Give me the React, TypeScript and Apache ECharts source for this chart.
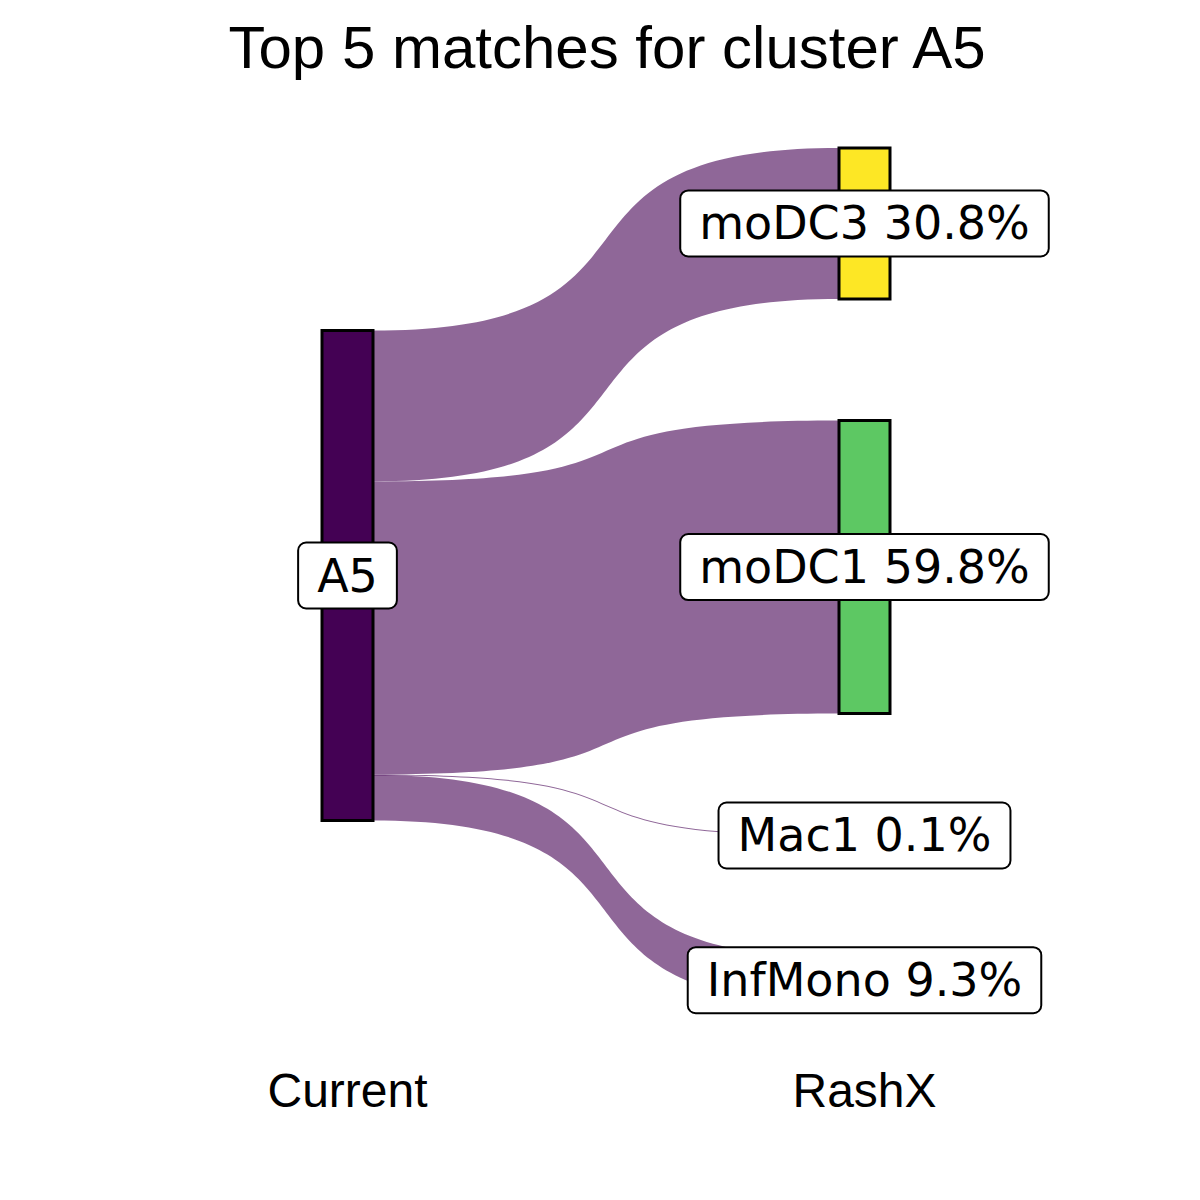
import React, { useEffect, useRef } from "react";
import * as echarts from "echarts";

const chartTitle = "Top 5 matches for cluster A5";
const sourceName = "A5";
const targetNames = ["moDC3", "moDC1", "Mac1", "InfMono"];
const targetPercents = [30.8, 59.8, 0.1, 9.3];
const sourceColor = "#440154";
const targetColors = ["#FDE725", "#5DC863", "#3B528B", "#21908C"];
const stageLabels = ["Current", "RashX"];

export default function App() {
  const ref = useRef<HTMLDivElement>(null);
  useEffect(() => {
    if (!ref.current) return;
    const chart = echarts.init(ref.current, null, { renderer: "svg" });

    const top = 148;
    const height = 855;
    const left = 322;
    const width = 568;
    const nodeWidth = 51;
    const total = targetPercents.reduce((a, b) => a + b, 0);
    const nodeGap = 121.7;
    const ky = (height - (targetNames.length - 1) * nodeGap) / total;
    const srcH = total * ky;
    const srcLocalY = (height - srcH) / 2 / height;

    const labelStyle = {
      show: true,
      position: "inside",
      color: "#000",
      fontFamily: "DejaVu Sans",
      fontSize: 46,
      lineHeight: 46,
      backgroundColor: "#fff",
      borderColor: "#000",
      borderWidth: 2,
      borderRadius: 7,
      padding: [9, 18, 9, 18],
    };

    const nodes: any[] = [
      {
        name: sourceName,
        localY: srcLocalY,
        itemStyle: { color: sourceColor },
        label: { ...labelStyle, formatter: () => sourceName },
      },
      ...targetNames.map((n, i) => ({
        name: n,
        itemStyle: { color: targetColors[i] },
        label: {
          ...labelStyle,
          formatter: () => `${n} ${targetPercents[i].toFixed(1)}%`,
        },
      })),
    ];
    const links = targetNames.map((n, i) => ({
      source: sourceName,
      target: n,
      value: targetPercents[i],
    }));

    chart.setOption({
      animation: false,
      backgroundColor: "#fff",
      series: [
        {
          type: "sankey",
          left,
          top,
          width,
          height,
          nodeWidth,
          nodeGap,
          layoutIterations: 0,
          draggable: false,
          emphasis: { disabled: true },
          itemStyle: { borderColor: "#000", borderWidth: 3 },
          lineStyle: { color: sourceColor, opacity: 0.6, curveness: 0.7 },
          data: nodes,
          links,
        },
      ],
      graphic: [
        {
          type: "text",
          x: 607,
          y: 47,
          style: {
            text: chartTitle,
            font: "60px 'Liberation Sans'",
            fill: "#000",
            textAlign: "center",
            textVerticalAlign: "middle",
          },
        },
        {
          type: "text",
          x: left + nodeWidth / 2,
          y: 1090,
          style: {
            text: stageLabels[0],
            font: "48px 'Liberation Sans'",
            fill: "#000",
            textAlign: "center",
            textVerticalAlign: "middle",
          },
        },
        {
          type: "text",
          x: left + width - nodeWidth / 2,
          y: 1090,
          style: {
            text: stageLabels[1],
            font: "48px 'Liberation Sans'",
            fill: "#000",
            textAlign: "center",
            textVerticalAlign: "middle",
          },
        },
      ],
    });
    return () => chart.dispose();
  }, []);
  return (
    <div
      ref={ref}
      style={{ position: "absolute", left: 0, top: 0, width: 1200, height: 1200 }}
    />
  );
}
